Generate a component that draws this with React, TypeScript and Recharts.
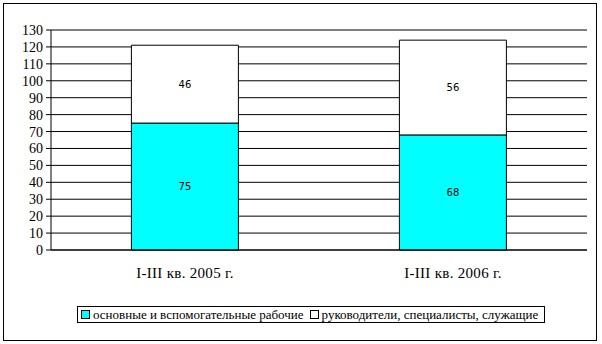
import React from "react";
import { BarChart, Bar, XAxis, YAxis, CartesianGrid, LabelList } from "recharts";

const categories = ["I-III кв. 2005 г.", "I-III кв. 2006 г."];
const workers = [75, 68];
const managers = [46, 56];
const yTicks = [0, 10, 20, 30, 40, 50, 60, 70, 80, 90, 100, 110, 120, 130];
const boundaryTicks = [0, 1, 2];
const seriesNames = ["основные и вспомогательные рабочие", "руководители, специалисты, служащие"];
const seriesColors = ["#00FFFF", "#FFFFFF"];

const data = categories.map((c, i) => ({ name: c, workers: workers[i], managers: managers[i], pos: i + 0.5 }));

const serif = "'Liberation Serif', 'Times New Roman', Times, serif";

const LegendBox = () => (
  <div
    style={{
      position: "absolute",
      left: 77,
      top: 306,
      boxSizing: "border-box",
      width: 468,
      height: 17,
      border: "1px solid #000",
      display: "flex",
      alignItems: "center",
      padding: "0 3px",
      fontFamily: serif,
      fontSize: 13,
      color: "#000",
      whiteSpace: "nowrap",
      background: "#fff",
      overflow: "hidden",
    }}
  >
    {seriesNames.map((n, i) => (
      <React.Fragment key={n}>
        <span
          style={{
            display: "inline-block",
            flexShrink: 0,
            boxSizing: "border-box",
            width: 9,
            height: 9,
            border: "1px solid #000",
            background: seriesColors[i],
            marginRight: 3,
            marginLeft: i === 0 ? 0 : 6,
          }}
        />
        <span style={{ flexShrink: 0 }}>{n}</span>
      </React.Fragment>
    ))}
  </div>
);

const labelStyle = { fill: "#000", fontFamily: "'DejaVu Sans', sans-serif", fontSize: 10 };

export default function App() {
  return (
    <div style={{ position: "fixed", left: 0, top: 0, width: 602, height: 344, background: "#fff" }}>
      <div
        style={{
          position: "absolute",
          left: 3,
          top: 3,
          width: 592,
          height: 336,
          border: "1px solid #000",
        }}
      />
      <div style={{ position: "absolute", left: 0, top: 0 }}>
        <BarChart
          width={602}
          height={344}
          data={data}
          margin={{ top: 30, right: 15, left: 11, bottom: 64 }}
          barCategoryGap="30%"
        >
          <CartesianGrid xAxisId={1} horizontal={true} vertical={false} stroke="#000" strokeWidth={1} />
          <XAxis
            xAxisId={0}
            dataKey="pos"
            type="number"
            domain={[0, 2]}
            ticks={boundaryTicks}
            allowDataOverflow
            interval={0}
            height={0}
            axisLine={false}
            tickLine={{ stroke: "#000" }}
            tickSize={4}
            tick={{ fill: "none", fontSize: 0 }}
            tickFormatter={() => ""}
          />
          <XAxis
            xAxisId={1}
            dataKey="name"
            axisLine={{ stroke: "#000" }}
            tickLine={false}
            tick={{ fill: "#000", fontFamily: serif, fontSize: 15, letterSpacing: 0.3 }}
            tickMargin={11}
            height={30}
          />
          <YAxis
            domain={[0, 130]}
            ticks={yTicks}
            interval={0}
            width={40}
            axisLine={{ stroke: "#000" }}
            tickLine={{ stroke: "#000" }}
            tickSize={5}
            tickMargin={3}
            tick={{ fill: "#000", fontFamily: serif, fontSize: 14 }}
          />
          <Bar xAxisId={1} dataKey="workers" stackId="a" fill={seriesColors[0]} stroke="#000" strokeWidth={1} isAnimationActive={false}>
            <LabelList dataKey="workers" position="center" style={labelStyle} />
          </Bar>
          <Bar xAxisId={1} dataKey="managers" stackId="a" fill={seriesColors[1]} stroke="#000" strokeWidth={1} isAnimationActive={false}>
            <LabelList dataKey="managers" position="center" style={labelStyle} />
          </Bar>
        </BarChart>
      </div>
      <LegendBox />
    </div>
  );
}
